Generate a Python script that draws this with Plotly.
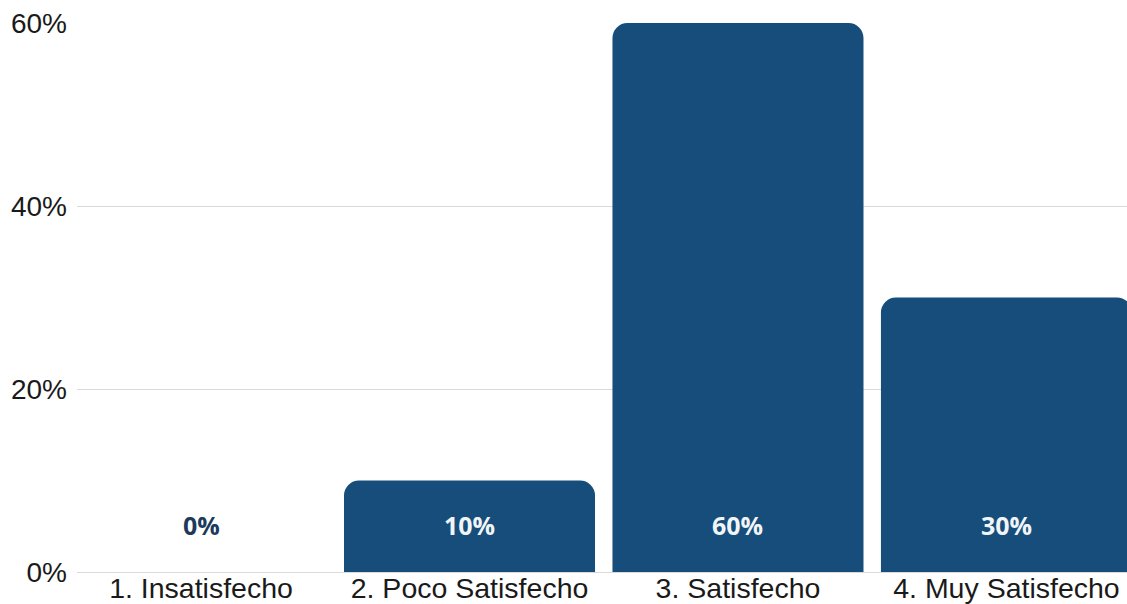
import plotly.graph_objects as go

# Survey results: satisfaction levels (share of respondents)
categories = ["1. Insatisfecho", "2. Poco Satisfecho", "3. Satisfecho", "4. Muy Satisfecho"]
shares = [0.0, 0.10, 0.60, 0.30]
y_ticks = [0, 0.2, 0.4, 0.6]
y_tick_labels = ["0%", "20%", "40%", "60%"]

BAR_COLOR = "#164d7b"
GRID_COLOR = "#d9d9d9"

fig = go.Figure(
    go.Bar(
        x=list(range(len(categories))),
        y=shares,
        width=0.935,
        marker=dict(color=BAR_COLOR, line=dict(width=0)),
        hoverinfo="skip",
    )
)

# Value labels sit near the base of each bar
for i, v in enumerate(shares):
    fig.add_annotation(
        x=i,
        y=0,
        yref="y",
        xref="x",
        text=f"<b>{round(v * 100)}%</b>",
        showarrow=False,
        yanchor="middle",
        yshift=47,
        font=dict(family="Open Sans", size=25, color="#1b3a5c" if v == 0 else "#f2f5f8"),
    )

fig.update_layout(
    width=1127,
    height=604,
    margin=dict(l=77, r=0, t=23, b=32, autoexpand=False),
    paper_bgcolor="white",
    plot_bgcolor="white",
    barcornerradius=15,
    showlegend=False,
    font=dict(family="Liberation Sans, Arial, sans-serif", color="#222222"),
)

fig.update_xaxes(
    range=[-0.462, 3.449],
    tickmode="array",
    tickvals=list(range(len(categories))),
    ticktext=categories,
    tickfont=dict(size=28.5, color="#1a1a1a"),
    ticklabelstandoff=-4,
    showgrid=False,
    showline=False,
    zeroline=False,
    ticks="",
    automargin=False,
)

fig.update_yaxes(
    range=[0, 0.6],
    tickmode="array",
    tickvals=y_ticks,
    ticktext=y_tick_labels,
    tickfont=dict(size=28, color="#1a1a1a"),
    ticklabelstandoff=9,
    showgrid=True,
    gridcolor=GRID_COLOR,
    gridwidth=1,
    zeroline=True,
    zerolinecolor=GRID_COLOR,
    zerolinewidth=1,
    showline=False,
    ticks="",
    automargin=False,
)

fig.write_html("out.html", config={"displayModeBar": False})
